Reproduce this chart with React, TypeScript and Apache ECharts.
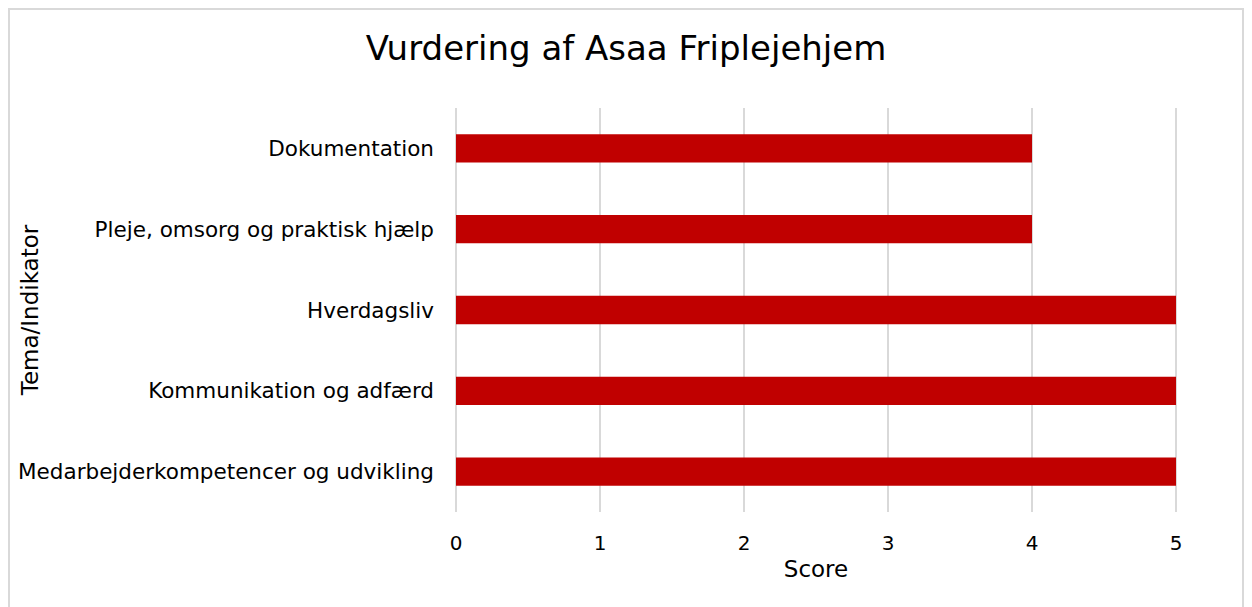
import React, { useEffect, useRef } from "react";
import * as echarts from "echarts";

const title = "Vurdering af Asaa Friplejehjem";
const categories = [
  "Medarbejderkompetencer og udvikling",
  "Kommunikation og adfærd",
  "Hverdagsliv",
  "Pleje, omsorg og praktisk hjælp",
  "Dokumentation",
];
const scores = [5, 5, 5, 4, 4];
const xAxisName = "Score";
const yAxisName = "Tema/Indikator";

const FONT = "DejaVu Sans";

export default function App() {
  const ref = useRef<HTMLDivElement>(null);
  useEffect(() => {
    const chart = echarts.init(ref.current!, null, { renderer: "svg" });
    chart.setOption({
      animation: false,
      textStyle: { fontFamily: FONT },
      title: {
        text: title,
        left: "center",
        top: 16,
        textStyle: { fontFamily: FONT, fontSize: 34, fontWeight: "normal", color: "#000" },
      },
      grid: {
        left: 446,
        right: 66,
        top: 98,
        bottom: 95,
        containLabel: false,
        outerBoundsMode: "none",
      },
      graphic: [
        {
          type: "text",
          x: 20,
          y: 300,
          rotation: Math.PI / 2,
          style: {
            text: yAxisName,
            fontFamily: FONT,
            fontSize: 23,
            fill: "#000",
            textAlign: "center",
            textVerticalAlign: "middle",
          },
        },
      ],
      xAxis: {
        type: "value",
        min: 0,
        max: 5,
        interval: 1,
        name: xAxisName,
        nameLocation: "middle",
        nameGap: 31,
        nameTextStyle: { fontFamily: FONT, fontSize: 23, color: "#000" },
        axisLine: { show: false },
        axisTick: { show: false },
        axisLabel: { fontFamily: FONT, fontSize: 20, color: "#000", margin: 21 },
        splitLine: { show: true, lineStyle: { color: "#d9d9d9", width: 2 } },
      },
      yAxis: {
        type: "category",
        data: categories,
        axisLine: { show: false },
        axisTick: { show: false },
        axisLabel: { fontFamily: FONT, fontSize: 21.5, color: "#000", margin: 22 },
        splitLine: { show: false },
      },
      series: [
        {
          type: "bar",
          data: scores,
          barWidth: "35%",
          itemStyle: { color: "#c00000" },
        },
      ],
    });
    return () => chart.dispose();
  }, []);
  return (
    <div style={{ border: "2px solid #d9d9d9", width: 1232, height: 597, boxSizing: "content-box" }}>
      <div ref={ref} style={{ width: 1232, height: 597 }} />
    </div>
  );
}
